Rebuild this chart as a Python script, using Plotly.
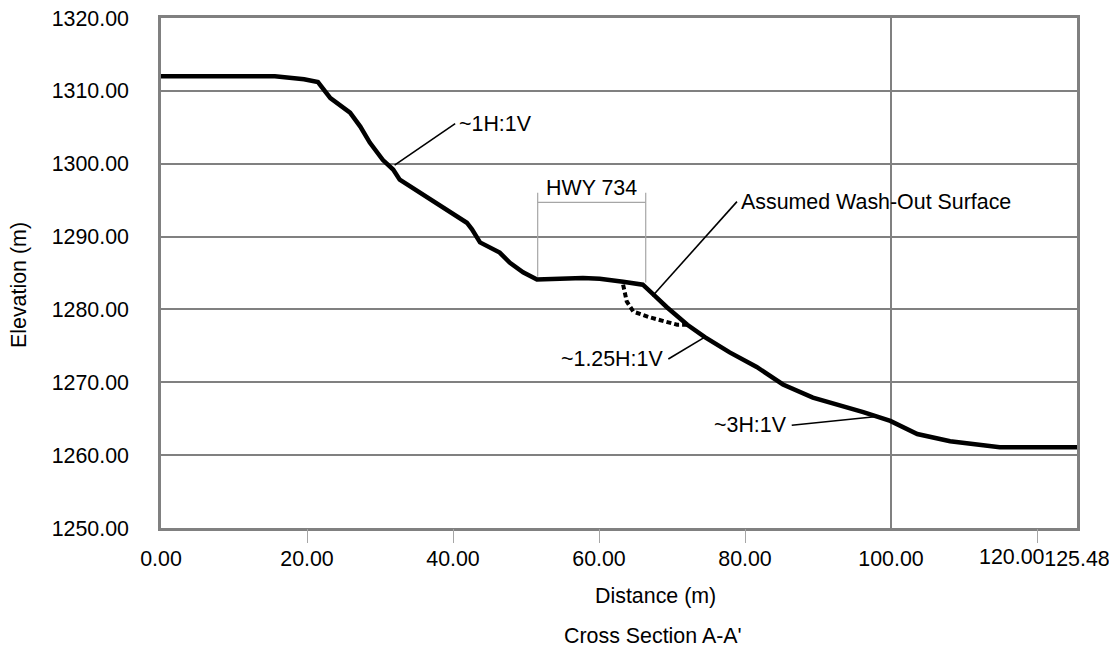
import plotly.graph_objects as go

# ---- data ----
distance = [0, 15.6, 19.6, 21.5, 23.2, 24.5, 25.9, 27.3, 28.6, 30.4, 31.8, 32.7, 35.5, 38.2,
            39.6, 41.9, 42.6, 43.7, 46.4, 47.8, 49.6, 51.5, 57.8, 60.1, 63.3, 66.0, 67.4,
            69.3, 72.1, 74.5, 77.9, 81.6, 85.2, 89.3, 96.2, 99.9, 103.6, 108.1, 114.9, 125.48]
elevation = [1312.0, 1312.0, 1311.6, 1311.2, 1309.0, 1308.1, 1307.0, 1305.1, 1302.9, 1300.5,
             1299.2, 1297.8, 1296.0, 1294.1, 1293.3, 1291.9, 1291.0, 1289.2, 1287.8, 1286.4,
             1285.1, 1284.1, 1284.3, 1284.2, 1283.8, 1283.4, 1282.1, 1280.3, 1277.9, 1276.2,
             1274.1, 1272.1, 1269.7, 1267.9, 1265.9, 1264.7, 1262.9, 1261.9, 1261.1, 1261.1]

washout_x = [63.3, 63.8, 64.7, 67.0, 70.7, 72.2]
washout_y = [1283.4, 1281.1, 1279.7, 1278.9, 1277.9, 1277.9]

x_tick_vals = [0, 20, 40, 60, 80, 100, 120, 125.48]
x_tick_text = ["0.00", "20.00", "40.00", "60.00", "80.00", "100.00", "120.00", "125.48"]
x_tick_marks = [20, 40, 60, 80, 120]
x_gridlines = [100]
y_tick_vals = [1250, 1260, 1270, 1280, 1290, 1300, 1310, 1320]

# leader lines: (x0, y0, x1, y1)
leaders = {
    "~1H:1V": [32.0, 1299.8, 40.3, 1305.5],
    "Assumed Wash-Out Surface": [67.3, 1281.8, 78.9, 1294.8],
    "~1.25H:1V": [69.5, 1273.2, 74.5, 1276.2],
    "~3H:1V": [86.4, 1264.1, 98.1, 1265.3],
}
# label anchor positions: (x, y, xanchor)
labels = {
    "~1H:1V": [40.6, 1305.5, "left"],
    "Assumed Wash-Out Surface": [79.2, 1294.8, "left"],
    "~1.25H:1V": [69.1, 1273.2, "right"],
    "~3H:1V": [86.0, 1264.1, "right"],
}

hwy_left, hwy_right = 51.6, 66.4
hwy_bar_y, hwy_top_y = 1294.7, 1296.0
hwy_left_bottom, hwy_right_bottom = 1284.5, 1283.7
hwy_label = ["HWY 734", 59.0, 1296.7]

FONT = "Arial, 'Liberation Sans', sans-serif"
FS = 21.4
GRID = "#808080"

# page offset of the default body margin (8px) is compensated here
OFF = 8
W, H = 1117 - OFF, 648 - OFF
L, R, T, B = 161 - OFF, 40, 18 - OFF, 120
plot_w = W - L - R
plot_h = H - T - B


def px_to_paper_x(px):
    return (px - OFF - L) / plot_w


def px_to_paper_y(py):
    return (H - B - (py - OFF)) / plot_h


fig = go.Figure()

# HWY bracket (thin grey)
fig.add_trace(go.Scatter(
    x=[hwy_left, hwy_left, None, hwy_right, hwy_right, None, hwy_left, hwy_right],
    y=[hwy_top_y, hwy_left_bottom, None, hwy_top_y, hwy_right_bottom, None, hwy_bar_y, hwy_bar_y],
    mode="lines", line=dict(color="#a6a6a6", width=1.2), xaxis="x2",
    hoverinfo="skip", showlegend=False))

# leader lines
lx, ly = [], []
for k, (x0, y0, x1, y1) in leaders.items():
    lx += [x0, x1, None]
    ly += [y0, y1, None]
fig.add_trace(go.Scatter(x=lx, y=ly, mode="lines", line=dict(color="black", width=1.6),
                         hoverinfo="skip", showlegend=False))

# washout dotted
fig.add_trace(go.Scatter(x=washout_x, y=washout_y, mode="lines",
                         line=dict(color="black", width=4, dash="5px,3px"),
                         showlegend=False))

# main profile
fig.add_trace(go.Scatter(x=distance, y=elevation, mode="lines",
                         line=dict(color="black", width=4.5), showlegend=False))

tfont = dict(family=FONT, size=FS, color="black")
annotations = []
for k, (x, y, anc) in labels.items():
    annotations.append(dict(x=x, y=y, xref="x", yref="y", text=k, showarrow=False,
                            xanchor=anc, yanchor="middle", font=tfont))
annotations.append(dict(x=hwy_label[1], y=hwy_label[2], xref="x", yref="y", text=hwy_label[0],
                        showarrow=False, xanchor="center", yanchor="middle", font=tfont))
# shifted 120.00 tick label (avoids overlap with 125.48)
annotations.append(dict(x=x_tick_vals[6], y=px_to_paper_y(557), xref="x", yref="paper",
                        text=x_tick_text[6], showarrow=False, xanchor="center",
                        yanchor="middle", xshift=-25, font=tfont))
# axis titles
annotations.append(dict(x=px_to_paper_x(655), y=px_to_paper_y(596), xref="paper", yref="paper",
                        text="Distance (m)", showarrow=False, xanchor="center",
                        yanchor="middle", font=tfont))
annotations.append(dict(x=px_to_paper_x(653), y=px_to_paper_y(636), xref="paper", yref="paper",
                        text="Cross Section A-A'", showarrow=False, xanchor="center",
                        yanchor="middle", font=tfont))
annotations.append(dict(x=px_to_paper_x(19), y=px_to_paper_y(285), xref="paper", yref="paper",
                        text="Elevation (m)", textangle=-90, showarrow=False,
                        xanchor="center", yanchor="middle", font=tfont))

tick_text_main = [t if v != 120 else "" for v, t in zip(x_tick_vals, x_tick_text)]

fig.update_layout(
    width=W, height=H,
    margin=dict(l=L, r=R, t=T, b=B, autoexpand=False),
    paper_bgcolor="white", plot_bgcolor="white",
    font=tfont,
    xaxis=dict(range=[0, 125.48], tickmode="array", tickvals=x_tick_vals, ticktext=tick_text_main,
               tickangle=0, ticks="", showgrid=False, zeroline=False, automargin=False,
               showline=True, linecolor=GRID, linewidth=2.5, mirror=True,
               ticklabelstandoff=10, ticklabeloverflow="allow", tickfont=tfont),
    xaxis2=dict(range=[0, 125.48], overlaying="x", anchor="y", side="bottom",
                tickmode="array", tickvals=x_tick_marks, ticks="outside", ticklen=14,
                tickcolor="#a6a6a6", tickwidth=1, showticklabels=False, showgrid=False,
                zeroline=False, showline=False, automargin=False),
    yaxis=dict(range=[1250, 1320], tickmode="array", tickvals=y_tick_vals, tickformat=".2f",
               ticks="", showgrid=True, gridcolor=GRID, gridwidth=2, zeroline=False,
               showline=True, linecolor=GRID, linewidth=2.5, mirror=True, automargin=False,
               ticklabelstandoff=25, ticklabeloverflow="allow", tickfont=tfont),
    shapes=[dict(type="line", xref="x", yref="paper", x0=g, x1=g, y0=0, y1=1,
                 line=dict(color=GRID, width=2), layer="below") for g in x_gridlines],
    annotations=annotations,
    showlegend=False,
)

fig.write_html("out.html")
